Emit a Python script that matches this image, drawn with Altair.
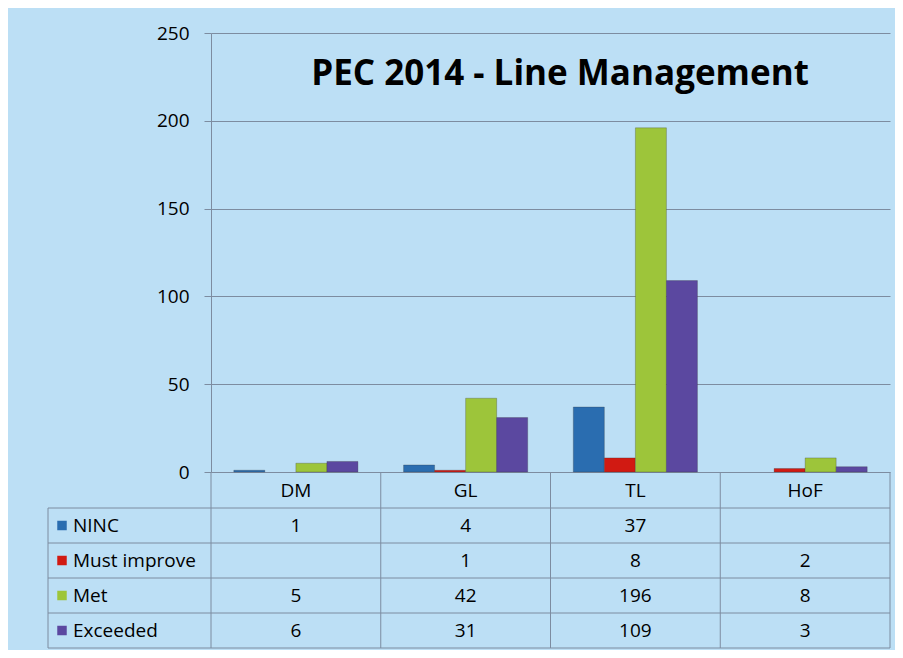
import altair as alt
import pandas as pd

# ---- data ----
categories = ["DM", "GL", "TL", "HoF"]
series = ["NINC", "Must improve", "Met", "Exceeded"]
ninc = [1, 4, 37, None]
must_improve = [None, 1, 8, 2]
met = [5, 42, 196, 8]
exceeded = [6, 31, 109, 3]
colors = ["#2A6DB0", "#D11A12", "#9DC53A", "#5B48A0"]
y_ticks = [0, 50, 100, 150, 200, 250]
chart_title = "PEC 2014 - Line Management"

rows = []
for s, vals in zip(series, [ninc, must_improve, met, exceeded]):
    for c, v in zip(categories, vals):
        rows.append({"category": c, "series": s, "value": v,
                     "label": "" if v is None else str(v)})
df = pd.DataFrame(rows)
cat_df = pd.DataFrame({"category": categories})
ser_df = pd.DataFrame({"series": series})

# ---- layout ----
W = 679
H = 615
Y0 = 439          # pixel of value 0
TABLE_TOP = 475
TABLE_BOTTOM = 615
LEFT_COL = -163
FONT = "Open Sans"
LINE = "#7D8CA0"
TXT = 19

xs = alt.Scale(domain=categories, paddingInner=0, paddingOuter=0)
x_axis = alt.Axis(title=None, labels=False, ticks=False, domain=False, grid=False)
offs = alt.Scale(domain=series, paddingInner=0, paddingOuter=0.735)
ty = alt.Scale(domain=series, range=[TABLE_TOP, TABLE_BOTTOM], paddingInner=0, paddingOuter=0)
color = alt.Color("series:N", scale=alt.Scale(domain=series, range=colors), legend=None)

def X(**kw):
    return alt.X("category:N", scale=xs, axis=x_axis, sort=categories, **kw)

bars = alt.Chart(df).mark_bar(strokeWidth=0.8, strokeOpacity=0.35, stroke="#333333").encode(
    x=X(),
    xOffset=alt.XOffset("series:N", scale=offs, sort=series),
    y=alt.Y("value:Q", scale=alt.Scale(domain=[0, 250], range=[Y0, 0]),
            axis=alt.Axis(title=None, values=y_ticks, grid=True, gridColor=LINE,
                          gridWidth=1, domainColor=LINE, tickColor=LINE, tickSize=7,
                          labelPadding=15, labelFontSize=TXT, labelColor="black",
                          labelFont=FONT)),
    color=color,
)

header_txt = alt.Chart(cat_df).mark_text(fontSize=TXT, font=FONT, color="black",
                                         baseline="middle").encode(
    x=X(),
    y=alt.value((Y0 + TABLE_TOP) / 2 + 1),
    text="category:N",
)

values_txt = alt.Chart(df).mark_text(fontSize=TXT, font=FONT, color="black").encode(
    x=X(),
    y=alt.Y("series:N", scale=ty, axis=None, sort=series),
    text="label:N",
)

legend_sq = alt.Chart(ser_df).mark_square(size=90, opacity=1).encode(
    x=alt.value(-149),
    y=alt.Y("series:N", scale=ty, axis=None, sort=series),
    color=color,
)
legend_txt = alt.Chart(ser_df).mark_text(fontSize=TXT, font=FONT, color="black",
                                         align="left").encode(
    x=alt.value(-138),
    y=alt.Y("series:N", scale=ty, axis=None, sort=series),
    text="series:N",
)

h_rules = alt.Chart(ser_df).mark_rule(color=LINE, strokeWidth=1).encode(
    y=alt.Y("series:N", scale=ty, axis=None, sort=series, bandPosition=0),
    x=alt.value(LEFT_COL), x2=alt.value(W),
)
h_bottom = alt.Chart(ser_df).transform_filter(
    alt.datum.series == series[-1]).mark_rule(color=LINE, strokeWidth=1).encode(
    y=alt.Y("series:N", scale=ty, axis=None, sort=series, bandPosition=1),
    x=alt.value(LEFT_COL), x2=alt.value(W),
)
v_rules = alt.Chart(cat_df).mark_rule(color=LINE, strokeWidth=1).encode(
    x=X(bandPosition=0),
    y=alt.value(Y0), y2=alt.value(TABLE_BOTTOM),
)
v_right = alt.Chart(cat_df).transform_filter(
    alt.datum.category == categories[-1]).mark_rule(color=LINE, strokeWidth=1).encode(
    x=X(bandPosition=1),
    y=alt.value(Y0), y2=alt.value(TABLE_BOTTOM),
)
v_left = alt.Chart(cat_df).transform_filter(
    alt.datum.category == categories[0]).mark_rule(color=LINE, strokeWidth=1).encode(
    x=alt.value(LEFT_COL),
    y=alt.value(TABLE_TOP), y2=alt.value(TABLE_BOTTOM),
)

title = alt.Chart(pd.DataFrame({"t": [chart_title]})).mark_text(
    fontSize=35, font=FONT, fontWeight="bold", color="black",
    align="center", baseline="alphabetic").encode(
    text="t:N", x=alt.value(349), y=alt.value(52))

chart = alt.layer(
    h_rules, h_bottom, v_rules, v_right, v_left,
    bars, header_txt, values_txt, legend_sq, legend_txt, title
).resolve_scale(y="independent").properties(
    width=W, height=H,
    background="#BCDFF5",
    autosize=alt.AutoSizeParams(type="none"),
    padding={"left": 203, "top": 25, "right": 5, "bottom": 2},
).configure_view(stroke=None)

chart.save("out.html", embed_options={"renderer": "svg", "actions": False})
